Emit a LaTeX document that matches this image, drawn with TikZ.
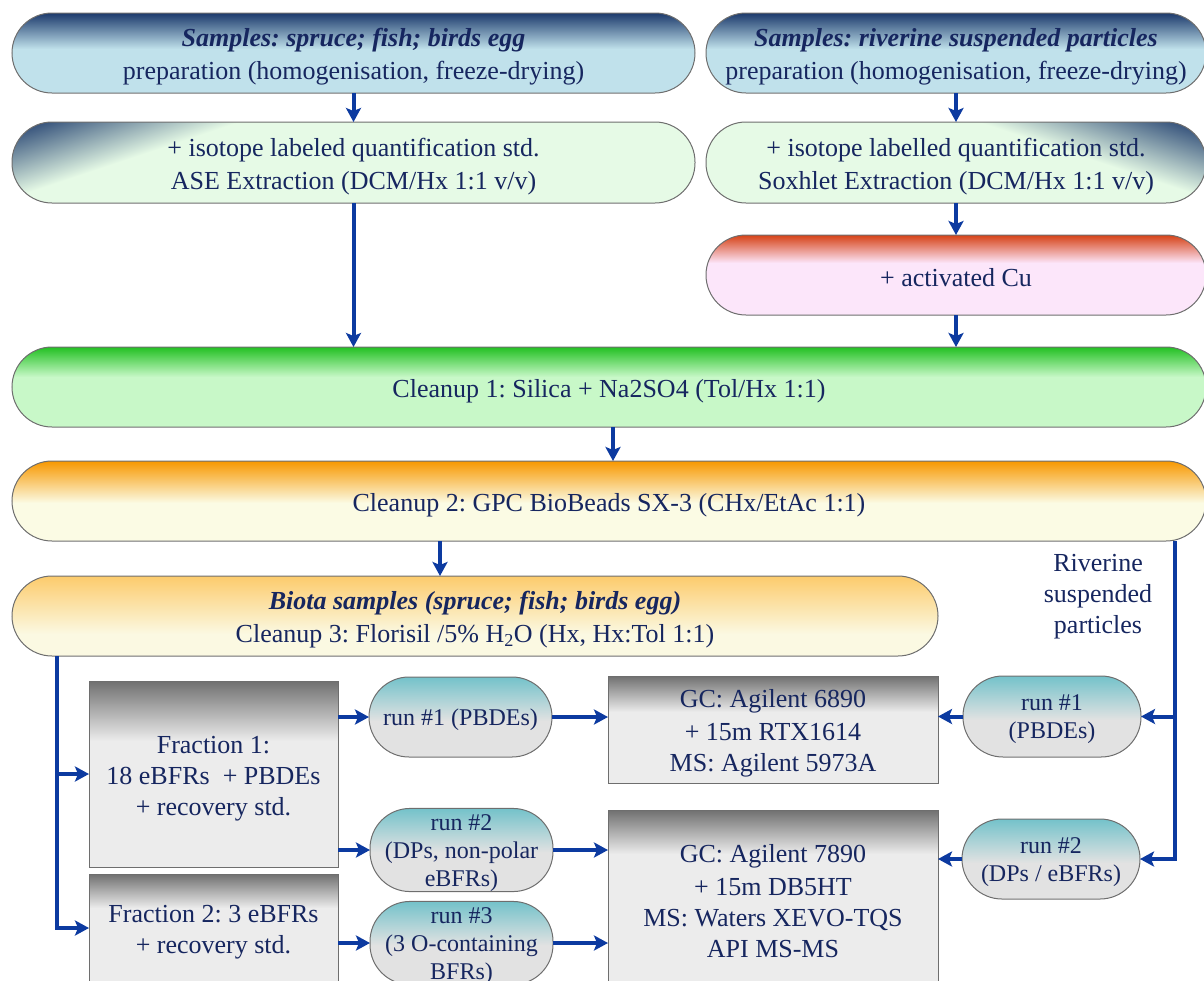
\documentclass[tikz,border=0pt]{standalone}
\usepackage{fontspec}
\setmainfont{Liberation Serif}
\frenchspacing
\usetikzlibrary{arrows.meta,calc}
\newcommand\lsb{\rule[-4pt]{0pt}{30pt}}
\newcommand\lsr{\rule[-5pt]{0pt}{27pt}}
\definecolor{txt}{RGB}{22,38,95}
\definecolor{arrc}{RGB}{12,58,160}
\definecolor{edgec}{RGB}{110,110,110}
\definecolor{navy}{RGB}{28,58,108}
\definecolor{lblue}{RGB}{192,225,235}
\definecolor{lgreen}{RGB}{230,250,230}
\definecolor{cured}{RGB}{214,66,22}
\definecolor{cupink}{RGB}{252,230,250}
\definecolor{cgreen}{RGB}{34,192,34}
\definecolor{cgreenl}{RGB}{200,248,200}
\definecolor{corange}{RGB}{248,152,0}
\definecolor{cyell}{RGB}{251,251,228}
\definecolor{btop}{RGB}{252,203,108}
\definecolor{blight}{RGB}{251,249,226}
\definecolor{teal}{RGB}{116,194,202}
\definecolor{rlight}{RGB}{226,226,226}
\definecolor{gdark}{RGB}{112,112,112}
\definecolor{glight}{RGB}{236,236,236}
\tikzset{
  base/.style={draw=edgec, line width=1pt, inner sep=0pt, outer sep=0pt, align=center, text=txt},
  box/.style={base, font=\fontsize{26}{31}\selectfont},
  pill/.style={box, rounded corners=40pt},
  runpill/.style={base, rounded corners=40pt, font=\fontsize{24}{28}\selectfont},
  vg/.style n args={3}{path picture={
      \fill[#2, draw=none, sharp corners] (path picture bounding box.south west) rectangle (path picture bounding box.north east);
      \shade[draw=none, sharp corners, top color=#1, bottom color=#2] (path picture bounding box.north west) rectangle ([yshift=-#3]path picture bounding box.north east);}},
  dg/.style n args={4}{path picture={
      \fill[#2, draw=none, sharp corners] (path picture bounding box.south west) rectangle (path picture bounding box.north east);
      \fill[#1, draw=none, sharp corners, transform canvas={rotate around={#4:(path picture bounding box.#3)}}]
        ([xshift=-700pt, yshift=60pt]path picture bounding box.#3) rectangle ([xshift=700pt]path picture bounding box.#3);
      \shade[draw=none, sharp corners, top color=#1, bottom color=#2, transform canvas={rotate around={#4:(path picture bounding box.#3)}}]
        ([xshift=-700pt]path picture bounding box.#3) rectangle ([xshift=700pt, yshift=-72pt]path picture bounding box.#3);}},
  arr/.style={draw=arrc, line width=4pt, line join=miter, -{Stealth[length=14pt,width=15pt,inset=3pt]}},
}
\begin{document}
\begin{tikzpicture}[x=1pt,y=-1pt]
\useasboundingbox (0,0) rectangle (1204,980);
\clip (0,0) rectangle (1204,980);

\node[pill, vg={navy}{lblue}{36pt}, minimum width=683pt, minimum height=80pt] (b1) at (353.5,53)
  {\lsb\textbf{\textit{Samples: spruce; fish; birds egg}}\\\lsb preparation (homogenisation, freeze-drying)};
\node[pill, vg={navy}{lblue}{36pt}, minimum width=500pt, minimum height=80pt] (b2) at (956,53)
  {\lsb\textbf{\textit{Samples: riverine suspended particles}}\\\lsb preparation (homogenisation, freeze-drying)};
\node[pill, dg={navy}{lgreen}{north west}{18.5}, minimum width=683pt, minimum height=81pt] (b3) at (353.5,162.5)
  {\lsb+ isotope labeled quantification std.\\\lsb ASE Extraction (DCM/Hx 1:1 v/v)};
\node[pill, dg={navy}{lgreen}{north east}{-18.5}, minimum width=500pt, minimum height=81pt] (b4) at (956,162.5)
  {\lsb+ isotope labelled quantification std.\\\lsb Soxhlet Extraction (DCM/Hx 1:1 v/v)};
\node[pill, vg={cured}{cupink}{28pt}, minimum width=500pt, minimum height=80pt] (b5) at (956,275)
  {\lsb+ activated Cu};
\node[pill, vg={cgreen}{cgreenl}{30pt}, minimum width=1194pt, minimum height=80pt] (c1) at (609,387)
  {\lsb Cleanup 1: Silica + Na2SO4 (Tol/Hx 1:1)};
\node[pill, vg={corange}{cyell}{42pt}, minimum width=1194pt, minimum height=80pt] (c2) at (609,501)
  {\lsb Cleanup 2: GPC BioBeads SX-3 (CHx/EtAc 1:1)};
\node[pill, vg={btop}{blight}{58pt}, minimum width=926pt, minimum height=80pt] (biota) at (475,616)
  {\lsb\textbf{\textit{Biota samples (spruce; fish; birds egg)}}\\\lsb Cleanup 3: Florisil /5\% H\textsubscript{2}O (Hx, Hx:Tol 1:1)};

\node[text=txt, align=center, font=\fontsize{26}{31}\selectfont] (riv) at (1098,597)
  {Riverine\\suspended\\particles};

\node[box, vg={gdark}{glight}{60pt}, minimum width=249pt, minimum height=186pt] (f1) at (213.5,774)
  {\lsb Fraction 1:\\\lsb 18 eBFRs\ \ + PBDEs\\\lsb + recovery std.};
\node[box, vg={gdark}{glight}{34pt}, minimum width=249pt, minimum height=108pt] (f2) at (213.5,928) {};
\node[text=txt, align=center, font=\fontsize{26}{31}\selectfont] (f2t) at (213.5,932)
  {Fraction 2: 3 eBFRs\\+ recovery std.};

\node[runpill, vg={teal}{rlight}{44pt}, minimum width=183pt, minimum height=80pt] (run1L) at (460.5,717)
  {\lsr run \#1 (PBDEs)};
\node[runpill, vg={teal}{rlight}{44pt}, minimum width=183pt, minimum height=80pt] (run2L) at (461.5,850)
  {\lsr run \#2\\\lsr (DPs, non-polar\\\lsr eBFRs)};
\node[runpill, vg={teal}{rlight}{44pt}, minimum width=183pt, minimum height=80pt] (run3L) at (461.5,943)
  {\lsr run \#3\\\lsr (3 O-containing\\\lsr BFRs)};

\node[box, vg={gdark}{glight}{36pt}, minimum width=330pt, minimum height=107pt] (gc1) at (773,729.5)
  {\lsb GC: Agilent 6890\\\lsb + 15m RTX1614\\\lsb MS: Agilent 5973A};
\node[box, vg={gdark}{glight}{44pt}, minimum width=330pt, minimum height=178pt] (gc2) at (773,899)
  {\lsb GC: Agilent 7890\\\lsb + 15m DB5HT\\\lsb MS: Waters XEVO-TQS\\\lsb API MS-MS};

\node[runpill, vg={teal}{rlight}{44pt}, minimum width=178pt, minimum height=81pt] (run1R) at (1052,716.5)
  {\lsr run \#1\\\lsr (PBDEs)};
\node[runpill, vg={teal}{rlight}{44pt}, minimum width=178pt, minimum height=80pt] (run2R) at (1051,859)
  {\lsr run \#2\\\lsr (DPs / eBFRs)};

\coordinate (rx) at (1175,0);
\coordinate (lx) at (57,0);

\draw[arr] (b1) -- (b3);
\draw[arr] (b2) -- (b4);
\draw[arr] (b4) -- (b5);
\draw[arr] (b3.south) -- (b3.south |- c1.north);
\draw[arr] (b5.south) -- (b5.south |- c1.north);
\draw[arr] ([xshift=4pt]c1.south) -- ([xshift=4pt]c2.north);
\draw[arr] ([xshift=-35pt]biota.north |- c2.south) -- ([xshift=-35pt]biota.north);

\draw[arr] (c2.south -| rx) -- (run2R.east -| rx) -- (run2R.east);
\draw[arr] (run1R.east -| rx) -- (run1R.east);

\draw[arr] (biota.south -| lx) -- (f2.west -| lx) -- (f2.west);
\draw[arr] (f1.west -| lx) -- (f1.west);

\draw[arr] (run1L.west -| f1.east) -- (run1L.west);
\draw[arr] (run2L.west -| f1.east) -- (run2L.west);
\draw[arr] (run3L.west -| f2.east) -- (run3L.west);
\draw[arr] (run1L.east) -- (run1L.east -| gc1.west);
\draw[arr] (run2L.east) -- (run2L.east -| gc2.west);
\draw[arr] (run3L.east) -- (run3L.east -| gc2.west);
\draw[arr] (run1R.west) -- (run1R.west -| gc1.east);
\draw[arr] (run2R.west) -- (run2R.west -| gc2.east);
\end{tikzpicture}
\end{document}
